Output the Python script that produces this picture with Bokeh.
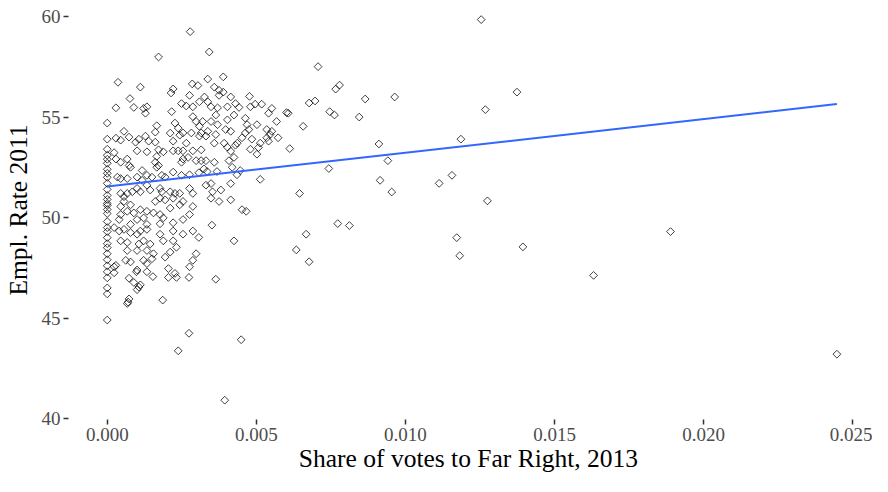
import math
from bokeh.plotting import figure
from bokeh.models import Range1d, FixedTicker, NumeralTickFormatter, ColumnDataSource
from bokeh.embed import file_html
from bokeh.resources import INLINE

x_ticks = [0.0, 0.005, 0.010, 0.015, 0.020, 0.025]
y_ticks = [40, 45, 50, 55, 60]
fit_share = [0.0, 0.02447]
fit_empl = [51.55, 55.65]

share_a = [0.0, 0.0, 0.0, 0.0, 0.0, 0.0, 0.0, 0.0, 0.0, 0.0,
           0.0, 0.0, 0.0, 0.0, 0.0, 0.0, 0.0, 0.0, 0.0, 0.0,
           0.0, 0.0, 0.0, 0.0, 0.0, 0.0, 0.0, 0.0, 0.0, 0.0, 0.0]
empl_a = [54.7, 53.9, 53.4, 53.1, 52.9, 52.7, 52.4, 52.2, 52.0, 51.7,
          51.4, 51.1, 50.9, 50.7, 50.6, 50.4, 50.2, 49.8, 49.5, 49.3,
          49.0, 48.7, 48.5, 48.2, 47.9, 47.6, 47.3, 47.0, 46.5, 46.2, 44.9]

share_b = [0.00278, 0.00172, 0.00036, 0.00111, 0.00221, 0.00214, 0.00285, 0.00304, 0.00076, 0.00029,
           0.00089, 0.00122, 0.00133, 0.00128, 0.00216, 0.00249, 0.00265, 0.00276, 0.00287, 0.00309,
           0.00056, 0.00166, 0.00227, 0.00238, 0.00254, 0.00287, 0.00298, 0.00309, 0.00282, 0.00309,
           0.00029, 0.00045, 0.00073, 0.00095, 0.00106, 0.00128, 0.00139, 0.00161, 0.00161, 0.00211, 0.00221, 0.00243, 0.00265]
empl_b = [59.25, 57.99, 56.73, 56.49, 56.40, 56.20, 56.65, 56.57, 55.92, 55.46,
          55.48, 55.43, 55.51, 55.19, 55.27, 55.67, 55.55, 56.08, 55.51, 55.76,
          54.29, 54.57, 54.70, 54.45, 54.21, 55.02, 54.78, 54.54, 54.21, 54.05,
          53.95, 53.85, 54.00, 53.75, 53.90, 54.05, 53.80, 54.25, 53.75, 54.20, 53.80, 54.10, 53.70]

share_c = [0.00342, 0.00389, 0.00337, 0.00359, 0.00375, 0.00389, 0.00375, 0.00414, 0.00477, 0.00326,
           0.00337, 0.00348, 0.00370, 0.00403, 0.00430, 0.00442, 0.00425, 0.00480, 0.00496, 0.00518,
           0.00552, 0.00541, 0.00568, 0.00601, 0.00607, 0.00364, 0.00320, 0.00348, 0.00370, 0.00403,
           0.00463, 0.00469, 0.00502, 0.00315, 0.00337, 0.00331, 0.00364, 0.00397, 0.00414, 0.00463,
           0.00475, 0.00535, 0.00552, 0.00546, 0.00573, 0.00359, 0.00392, 0.00436, 0.00485, 0.00513, 0.00541]
empl_c = [58.24, 57.00, 56.89, 56.49, 56.33, 56.24, 56.08, 56.00, 56.03, 56.00,
          55.76, 55.51, 55.46, 55.51, 55.67, 55.48, 55.10, 55.51, 55.64, 55.64,
          55.43, 55.19, 54.78, 55.22, 55.19, 55.10, 54.78, 54.78, 54.62, 54.86,
          54.94, 54.62, 54.62, 54.21, 54.29, 54.05, 54.13, 54.38, 54.29, 54.21,
          54.38, 54.38, 54.29, 54.13, 53.97, 53.70, 53.70, 53.70, 53.90, 53.70, 53.80]

share_d = [0.00315, 0.00403, 0.00414, 0.00430, 0.00480, 0.00507, 0.00502, 0.00452, 0.00535, 0.00612,
           0.00315, 0.00331, 0.00359, 0.00408, 0.00425, 0.00419, 0.00307, 0.00324, 0.00335, 0.00368,
           0.00435, 0.00446, 0.00513, 0.00331, 0.00348, 0.00414, 0.00287, 0.00353, 0.00381, 0.00348,
           0.00375, 0.00414, 0.00645, 0.00452, 0.00466, 0.00351, 0.00307, 0.00425, 0.00298, 0.00634, 0.00287]
empl_d = [53.37, 53.50, 53.30, 53.60, 53.40, 53.48, 53.15, 53.97, 53.97, 53.43,
          52.83, 52.83, 52.75, 52.83, 52.99, 52.50, 52.23, 52.42, 52.29, 52.29,
          52.13, 52.34, 51.90, 51.61, 51.69, 51.69, 51.20, 51.28, 51.37, 50.96,
          50.80, 50.88, 51.20, 50.39, 50.31, 49.62, 49.01, 48.84, 48.20, 48.39, 47.87]

share_e = [0.00364, 0.00449, 0.00394, 0.00274, 0.00238,
           0.00029, 0.00023, 0.00098, 0.00073, 0.00089, 0.00106, 0.00111, 0.00100, 0.00073, 0.00067,
           0.00070, 0.00153, 0.00205, 0.00227, 0.00232, 0.00274, 0.00276, 0.00186]
empl_e = [46.93, 43.92, 40.91, 44.24, 43.37,
          47.62, 47.25, 47.30, 46.98, 46.77, 46.54, 46.65, 46.41, 45.95, 45.72,
          45.79, 47.06, 47.02, 47.22, 47.02, 47.02, 47.55, 45.89]

share_f = [0.00023, 0.00100, 0.00133, 0.00172, 0.00188, 0.00221, 0.00238, 0.00254, 0.00287, 0.00166,
           0.00029, 0.00045, 0.00067, 0.00073, 0.00078, 0.00161, 0.00172, 0.00166, 0.00254, 0.00271, 0.00249, 0.00298,
           0.00117, 0.00034, 0.00045, 0.00067, 0.00100, 0.00117, 0.00133, 0.00150, 0.00183, 0.00194, 0.00221, 0.00249, 0.00276,
           0.00045, 0.00056, 0.00067, 0.00084, 0.00100, 0.00111, 0.00133, 0.00144, 0.00177, 0.00183, 0.00211,
           0.00227, 0.00243, 0.00276, 0.00254, 0.00221, 0.00194, 0.00177, 0.00161, 0.00078, 0.00056, 0.00045,
           0.00067, 0.00089, 0.00111, 0.00133, 0.00155, 0.00177, 0.00211, 0.00243, 0.00287, 0.00276,
           0.00254, 0.00221, 0.00188, 0.00122, 0.00100, 0.00045, 0.00040, 0.00078, 0.00133, 0.00177,
           0.00023, 0.00040, 0.00056, 0.00078, 0.00100, 0.00111, 0.00133, 0.00177, 0.00221, 0.00254, 0.00287,
           0.00045, 0.00067, 0.00106, 0.00122, 0.00144, 0.00188, 0.00221, 0.00067, 0.00100, 0.00133, 0.00155, 0.00211, 0.00232,
           0.00062, 0.00078, 0.00122, 0.00133, 0.00194, 0.00023, 0.00100, 0.00133, 0.00205, 0.00150]
empl_f = [53.23, 53.32, 53.27, 53.37, 53.27, 53.32, 53.32, 53.32, 53.32, 53.04,
          52.91, 52.75, 52.91, 52.59, 52.50, 52.75, 52.59, 52.50, 52.91, 52.99, 52.75, 52.83,
          52.34, 52.01, 51.94, 51.94, 52.01, 51.85, 52.10, 52.01, 52.10, 52.01, 52.26, 52.10, 52.13,
          51.20, 51.04, 51.20, 51.28, 51.45, 51.28, 51.61, 51.37, 51.45, 51.28, 51.28,
          51.20, 51.20, 51.45, 50.80, 50.96, 50.88, 50.96, 50.80, 50.63, 50.80, 50.55,
          50.31, 50.23, 50.39, 50.31, 50.23, 50.15, 50.47, 50.63, 50.55, 50.15,
          49.90, 49.74, 49.98, 49.98, 49.90, 50.15, 49.90, 49.66, 49.66, 49.69,
          49.50, 49.33, 49.41, 49.25, 49.17, 49.33, 49.41, 49.17, 49.33, 49.17, 49.33,
          48.84, 48.76, 48.68, 48.84, 48.68, 48.84, 48.84, 48.36, 48.36, 48.36, 48.20, 48.28, 48.52,
          47.87, 47.79, 47.87, 47.71, 48.03, 47.55, 47.39, 47.30, 47.46, 47.95]

share_g = [0.01254, 0.00707, 0.00779, 0.00766, 0.00697, 0.00677, 0.00746, 0.00762, 0.00865, 0.00964,
           0.00845, 0.01374, 0.01268, 0.01186, 0.00911, 0.00743, 0.01156, 0.01113, 0.00915, 0.00954,
           0.00941, 0.00773, 0.00812, 0.01275, 0.01172, 0.01182, 0.01394, 0.01889, 0.01631, 0.00667,
           0.00677, 0.02447, 0.00657]
empl_g = [59.85, 57.51, 56.59, 56.39, 55.80, 55.70, 55.27, 55.10, 55.90, 56.00,
          55.00, 56.24, 55.37, 53.90, 53.66, 52.44, 52.10, 51.70, 51.85, 51.27,
          52.83, 49.70, 49.60, 50.83, 49.00, 48.10, 48.54, 49.30, 47.12, 49.17,
          47.80, 43.20, 54.54]

share = share_a + share_b + share_c + share_d + share_e + share_f + share_g
empl = empl_a + empl_b + empl_c + empl_d + empl_e + empl_f + empl_g
n = min(len(share), len(empl))
src = ColumnDataSource(data=dict(x=share[:n], y=empl[:n]))

FONT = "Liberation Serif"

p = figure(width=872, height=476, output_backend="svg", toolbar_location=None,
           x_range=Range1d(-0.0013, 0.02553), y_range=Range1d(39.95, 60.8),
           min_border_left=65, min_border_right=4, min_border_top=0, min_border_bottom=57)
p.outline_line_color = None
p.xgrid.grid_line_color = None
p.ygrid.grid_line_color = None
p.background_fill_color = "white"
p.border_fill_color = "white"

p.scatter("x", "y", source=src, marker="square", size=5.5, angle=math.pi / 4,
          fill_color=None, line_color="black", line_alpha=0.75, line_width=1)
p.line(fit_share, fit_empl, line_color="#3366FF", line_width=2)

for ax in (p.xaxis[0], p.yaxis[0]):
    ax.axis_line_color = None
    ax.minor_tick_line_color = None
    ax.major_tick_in = 0
    ax.major_tick_out = 5
    ax.major_tick_line_color = "#333333"
    ax.major_tick_line_width = 1.5
    ax.major_label_text_font = FONT
    ax.major_label_text_font_size = "19px"
    ax.major_label_text_color = "#4D4D4D"
    ax.axis_label_text_font = FONT
    ax.axis_label_text_font_size = "25.5px"
    ax.axis_label_text_font_style = "normal"
    ax.axis_label_text_color = "black"

p.xaxis.ticker = FixedTicker(ticks=x_ticks)
p.yaxis.ticker = FixedTicker(ticks=y_ticks)
p.xaxis.formatter = NumeralTickFormatter(format="0.000")
p.yaxis.formatter = NumeralTickFormatter(format="0")
p.xaxis.axis_label = "Share of votes to Far Right, 2013"
p.yaxis.axis_label = "Empl. Rate 2011"
p.xaxis.major_label_standoff = 3
p.xaxis.axis_label_standoff = 0
p.yaxis.major_label_standoff = 3
p.yaxis.axis_label_standoff = 6

open("out.html", "w").write(file_html(p, INLINE))
